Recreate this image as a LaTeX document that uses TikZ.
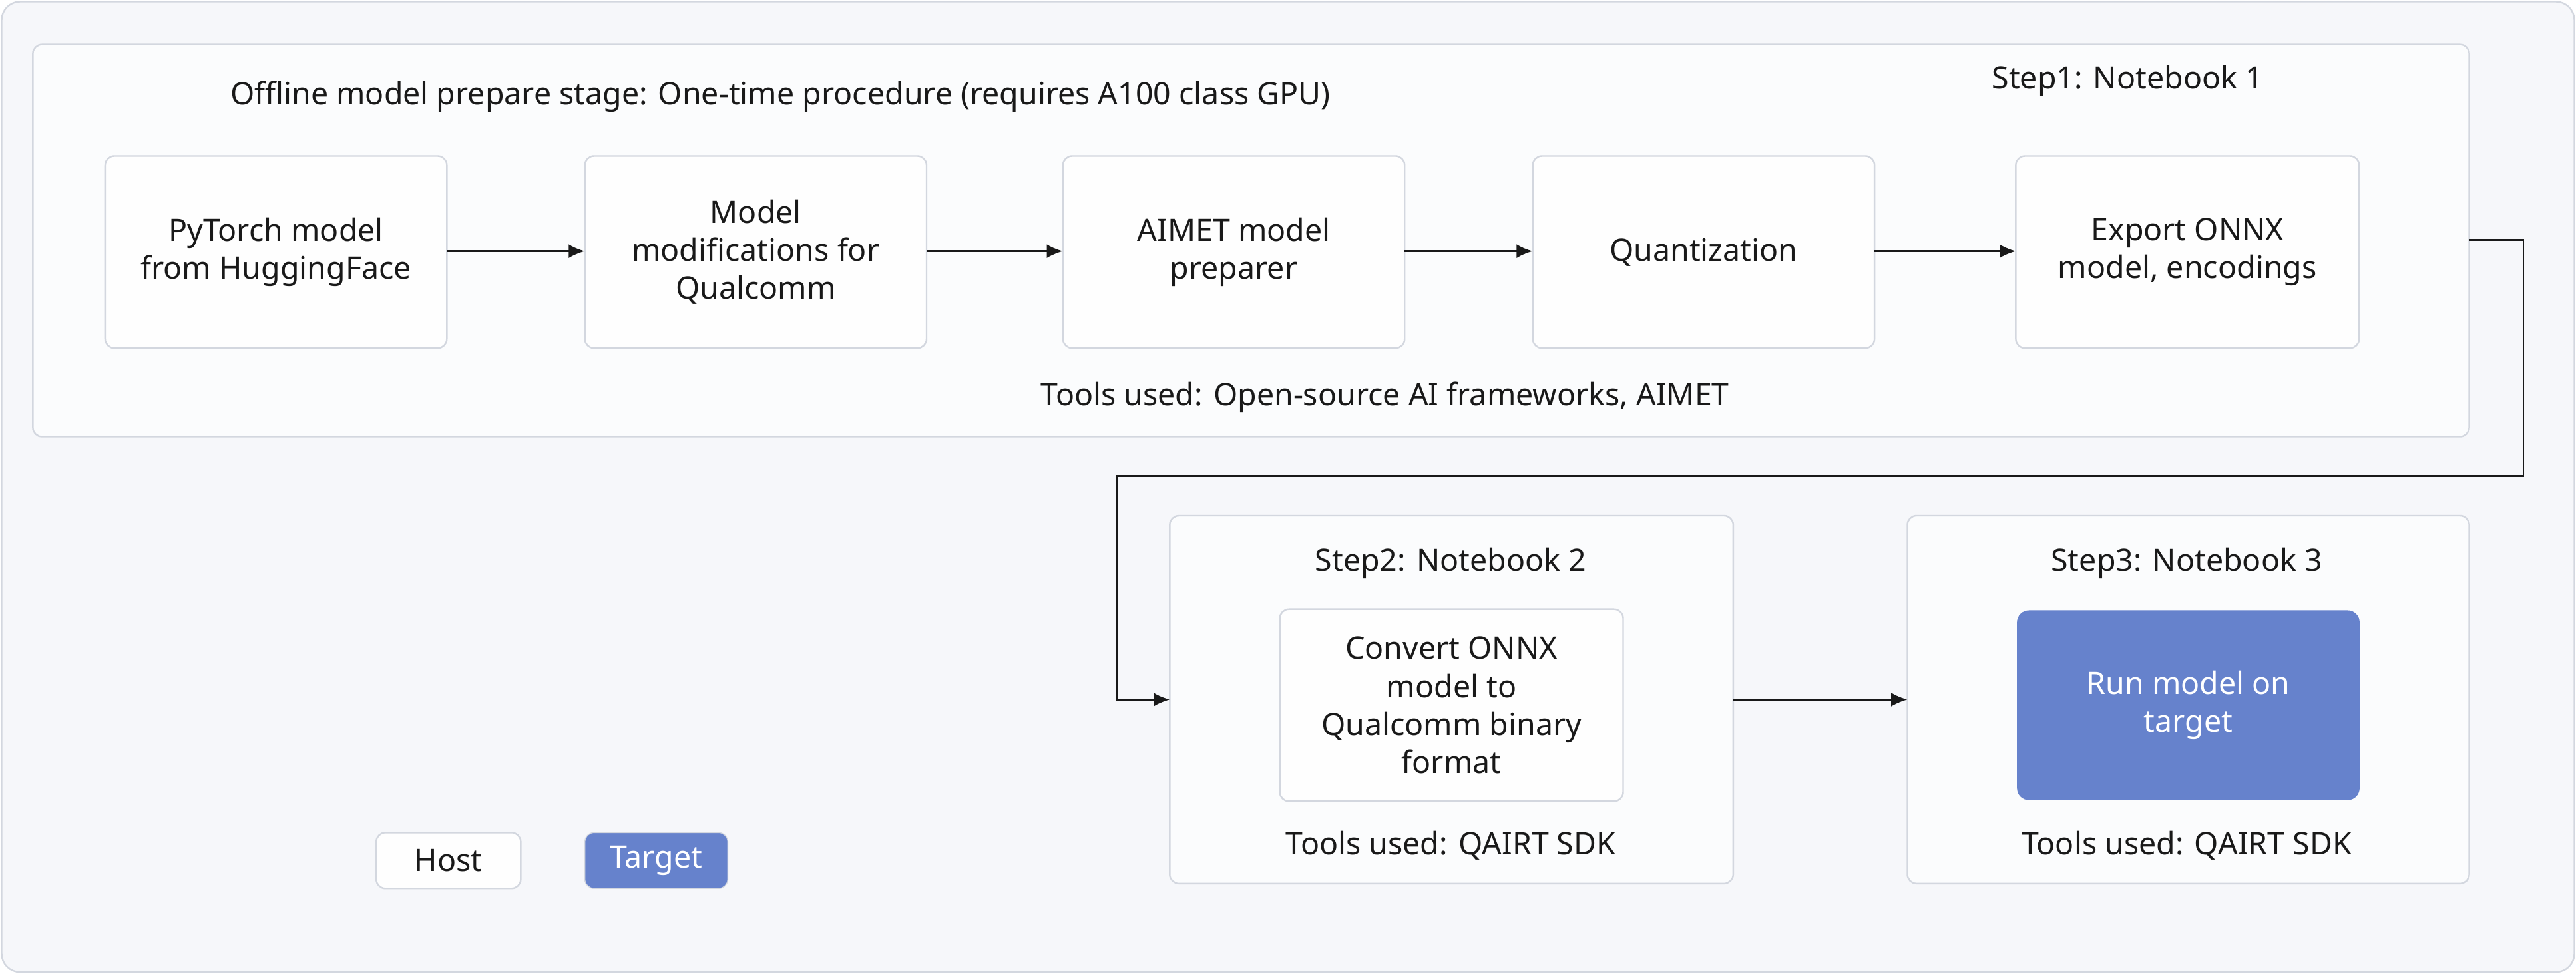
\documentclass[tikz,border=0pt]{standalone}
\usepackage{fontspec}
\setmainfont{Noto Sans}
\usetikzlibrary{arrows.meta}
\definecolor{bg}{HTML}{F6F7FA}
\definecolor{bd}{HTML}{D3D7DF}
\definecolor{blu}{HTML}{6682CC}
\begin{document}
\begin{tikzpicture}[x=0.025cm,y=-0.025cm,
  txt/.style={font=\fontsize{13.4}{16.5}\selectfont,align=center,text=black!90},
  box/.style={draw=bd,line width=0.7pt,rounded corners=4pt,fill=white!60!bg},
  arr/.style={-{Latex[length=7pt,width=6pt]},line width=0.8pt,black!90}]
\useasboundingbox (0,0) rectangle (1568,593);
\draw[box,fill=bg,rounded corners=8pt] (1,1) rectangle (1567,592);
\draw[box] (20,27) rectangle (1503,266);
\node[txt] at (475,59) {Offline model prepare stage: One-time procedure (requires A100 class GPU)};
\node[txt] at (1295,49) {Step1: Notebook 1};
\node[txt] at (843,242) {Tools used: Open-source AI frameworks, AIMET};
\coordinate (s1r) at (1503,146);
\draw[box,fill=white!85!bg] (64,95) rectangle (272,212) node[txt,midway] (a) {PyTorch model\\from HuggingFace};
\draw[box,fill=white!85!bg] (356,95) rectangle (564,212) node[txt,midway] (b) {Model\\modifications for\\Qualcomm};
\draw[box,fill=white!85!bg] (647,95) rectangle (855,212) node[txt,midway] (c) {AIMET model\\preparer};
\draw[box,fill=white!85!bg] (933,95) rectangle (1141,212) node[txt,midway] (d) {Quantization};
\draw[box,fill=white!85!bg] (1227,95) rectangle (1436,212) node[txt,midway] (e) {Export ONNX\\model, encodings};
\coordinate (ar) at (272,153); \coordinate (bl) at (356,153);
\coordinate (br) at (564,153); \coordinate (cl) at (647,153);
\coordinate (cr) at (855,153); \coordinate (dl) at (933,153);
\coordinate (dr) at (1141,153); \coordinate (el) at (1227,153);
\draw[arr] (ar) -- (bl); \draw[arr] (br) -- (cl); \draw[arr] (cr) -- (dl); \draw[arr] (dr) -- (el);
% step2
\draw[box] (712,314) rectangle (1055,538);
\coordinate (s2l) at (712,426); \coordinate (s2r) at (1055,426);
\node[txt] at (883,343) {Step2: Notebook 2};
\draw[box,fill=white!85!bg] (779,371) rectangle (988,488) node[txt,midway] (f) {Convert ONNX\\model to\\Qualcomm binary\\format};
\node[txt] at (883,515) {Tools used: QAIRT SDK};
% step3
\draw[box] (1161,314) rectangle (1503,538);
\coordinate (s3l) at (1161,426);
\node[txt] at (1331,343) {Step3: Notebook 3};
\draw[draw=blu,fill=blu,rounded corners=5pt] (1228,372) rectangle (1436,487) node[txt,text=white,midway] (g) {Run model on\\target};
\node[txt] at (1331,515) {Tools used: QAIRT SDK};
\draw[arr] (s1r) -- (1536,146) -- (1536,290) -- (680,290) -- (680,426) -- (s2l);
\draw[arr] (s2r) -- (s3l);
% legend
\draw[box,fill=white!85!bg] (229,507) rectangle (317,541) node[txt,midway] (h) {Host};
\draw[draw=bd,fill=blu,rounded corners=4pt] (356,507) rectangle (443,541) node[txt,text=white,midway] (t) {Target};
\end{tikzpicture}
\end{document}
